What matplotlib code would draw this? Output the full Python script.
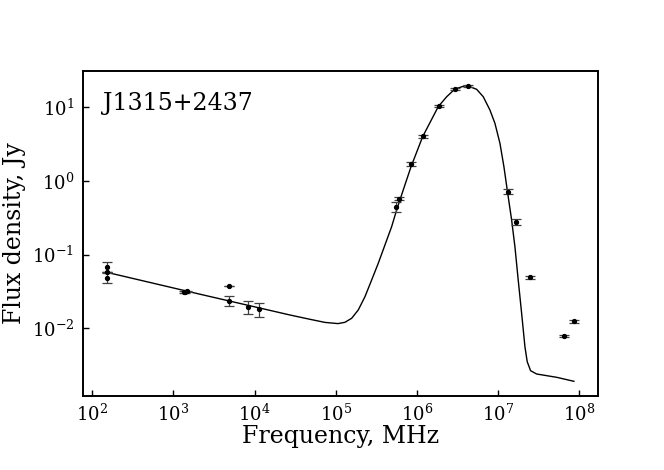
import matplotlib
matplotlib.use("Agg")
import matplotlib.pyplot as plt
from matplotlib.ticker import FixedLocator, LogFormatterSciNotation

# Observed photometry (frequency in MHz, flux density in Jy)
freq = [150, 150, 150, 1330, 1400, 1480, 4850, 4850, 8400, 11200,
        5.49e5, 6.04e5, 8.5e5, 1.19e6, 1.86e6, 2.99e6, 4.25e6,
        1.34e7, 1.66e7, 2.47e7, 6.47e7, 8.75e7]
flux = [0.0687, 0.0577, 0.0488, 0.0309, 0.0314, 0.0318, 0.0376, 0.0238, 0.0197, 0.0181,
        0.448, 0.575, 1.685, 4.04, 10.4, 17.9, 19.5,
        0.716, 0.281, 0.0493, 0.00789, 0.01247]
flux_err = [0.010, 0.0, 0.008, 0.0008, 0.0008, 0.0008, 0.0, 0.0039, 0.0039, 0.004,
            0.068, 0.03, 0.1, 0.15, 0.3, 0.5, 0.5,
            0.06, 0.025, 0.002, 0.0003, 0.0006]

# Model curve
model_freq = [150.1, 2123, 27330, 48210, 73820, 1.068e5, 1.302e5, 1.575e5, 1.900e5,
              2.298e5, 2.779e5, 3.353e5, 4.054e5, 4.903e5, 5.651e5, 6.815e5,
              8.481e5, 1.183e6, 1.841e6, 2.337e6, 2.958e6, 3.930e6, 4.529e6,
              5.478e6, 6.607e6, 7.990e6, 9.21e6, 1.062e7, 1.189e7, 1.306e7,
              1.480e7, 1.625e7, 1.784e7, 1.966e7, 2.159e7, 2.304e7, 2.537e7,
              3.009e7, 5.311e7, 8.678e7]
model_flux = [0.0577, 0.0291, 0.01520, 0.01329, 0.01206, 0.01162, 0.01210, 0.01371, 0.01777,
              0.02692, 0.04536, 0.07642, 0.1354, 0.2399, 0.4043, 0.7548,
              1.549, 3.992, 10.19, 13.88, 17.71, 19.57, 19.03,
              17.54, 13.92, 9.19, 6.066, 3.248, 1.563, 0.7548,
              0.2957, 0.1284, 0.04536, 0.01603, 0.005645, 0.003533, 0.002667,
              0.002406, 0.002170, 0.001915]

x_ticks = [1e2, 1e3, 1e4, 1e5, 1e6, 1e7, 1e8]
y_ticks = [1e-2, 1e-1, 1e0, 1e1]

source_name = "J1315+2437"

plt.rcParams['font.family'] = ['DejaVu Serif']
plt.rcParams['mathtext.fontset'] = 'dejavuserif'

fig = plt.figure(figsize=(6.64, 4.70), dpi=100)
ax = fig.add_axes([0.1245, 0.158, 0.7755, 0.691])

ax.plot(model_freq, model_flux, color='k', lw=1.0)
ax.errorbar(freq, flux, yerr=flux_err, fmt='o', color='k', ms=2.8,
            ecolor='0.25', elinewidth=0.9, capsize=3.5, capthick=0.9)

ax.set_xscale('log')
ax.set_yscale('log')
ax.set_xlim(75.9, 1.70e8)
ax.set_ylim(1.22e-3, 31.1)

ax.xaxis.set_major_locator(FixedLocator(x_ticks))
ax.yaxis.set_major_locator(FixedLocator(y_ticks))
ax.xaxis.set_major_formatter(LogFormatterSciNotation())
ax.yaxis.set_major_formatter(LogFormatterSciNotation())
ax.minorticks_off()
ax.tick_params(which='major', direction='in', length=4, width=1,
               labelsize=13, top=False, right=False, pad=6)
for sp in ax.spines.values():
    sp.set_linewidth(1.4)

ax.set_xlabel("Frequency, MHz", fontsize=17, labelpad=0)
ax.set_ylabel("Flux density, Jy", fontsize=17, labelpad=4)
ax.text(0.039, 0.9, source_name, transform=ax.transAxes, fontsize=17,
        ha='left', va='center')

fig.savefig("out.png", dpi=100)
